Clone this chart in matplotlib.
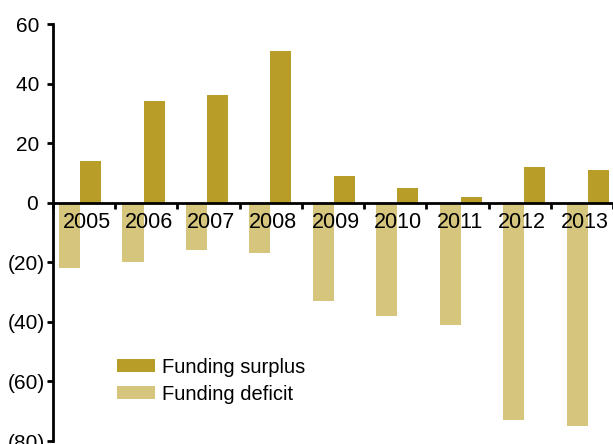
import numpy as np
import matplotlib
matplotlib.use('Agg')
import matplotlib.pyplot as plt
from matplotlib.ticker import FuncFormatter

###############################################################################
''' Data '''
years = ['2005', '2006', '2007', '2008', '2009', '2010', '2011', '2012', '2013']
surplus = [14, 34, 36, 51, 9, 5, 2, 12, 11]
deficit = [-22, -20, -16, -17, -33, -38, -41, -73, -75]

SURPLUS_COLOR = '#B89D28'
DEFICIT_COLOR = '#D5C57D'
plt.rcParams['font.family'] = ['Liberation Sans', 'DejaVu Sans']

###############################################################################
''' Layout (bar groups are spaced a little wider than the tick slots) '''
slot = 62.15 / 63.4          # tick spacing in bar units
x0 = -27 / 63.4              # left spine position
x = np.arange(len(years))
width = 0.331

fig = plt.figure(figsize=(6.13, 4.44), dpi=100)
ax = fig.add_axes([53 / 613, 3 / 444, 560 / 613, 417 / 444])

ax.bar(x - width / 2, deficit, width, color=DEFICIT_COLOR, label='Funding deficit')
ax.bar(x + width / 2, surplus, width, color=SURPLUS_COLOR, label='Funding surplus')

ax.set_ylim(-80, 60)
ax.set_xlim(x0, x0 + 9 * slot)
ax.set_yticks(range(-80, 61, 20))
# accounting style: positives padded so digits line up with the "(n)" ones
ax.yaxis.set_major_formatter(FuncFormatter(
    lambda v, p: '(%d)' % abs(v) if v < 0 else '%d\u2008' % v))

for s in ['top', 'right']:
    ax.spines[s].set_visible(False)
ax.spines['left'].set_linewidth(2)
ax.spines['bottom'].set_position(('data', 0))
ax.spines['bottom'].set_linewidth(2)

# boundaries as major ticks, years as minor-tick labels
bounds = x0 + slot * np.arange(10)
ax.set_xticks(bounds)
ax.set_xticklabels([])
ax.set_xticks(bounds[:-1] + slot / 2 + 0.04, minor=True)
ax.set_xticklabels(years, minor=True, fontsize=15.5)
ax.tick_params(axis='x', which='major', direction='out', length=4, width=2)
ax.tick_params(axis='x', which='minor', length=0, pad=7)
ax.tick_params(axis='y', direction='out', length=4, width=2, labelsize=15, pad=2)

handles, labels = ax.get_legend_handles_labels()
ax.legend(handles[::-1], labels[::-1], frameon=False, loc='center left',
          bbox_to_anchor=(0.114, 0.145), handlelength=1.9,
          handleheight=0.67, handletextpad=0.35, labelspacing=0.4,
          borderaxespad=0, borderpad=0,
          prop={'family': ['Liberation Sans Narrow', 'Liberation Sans'], 'size': 14.5})

fig.savefig('out.png', dpi=100)
